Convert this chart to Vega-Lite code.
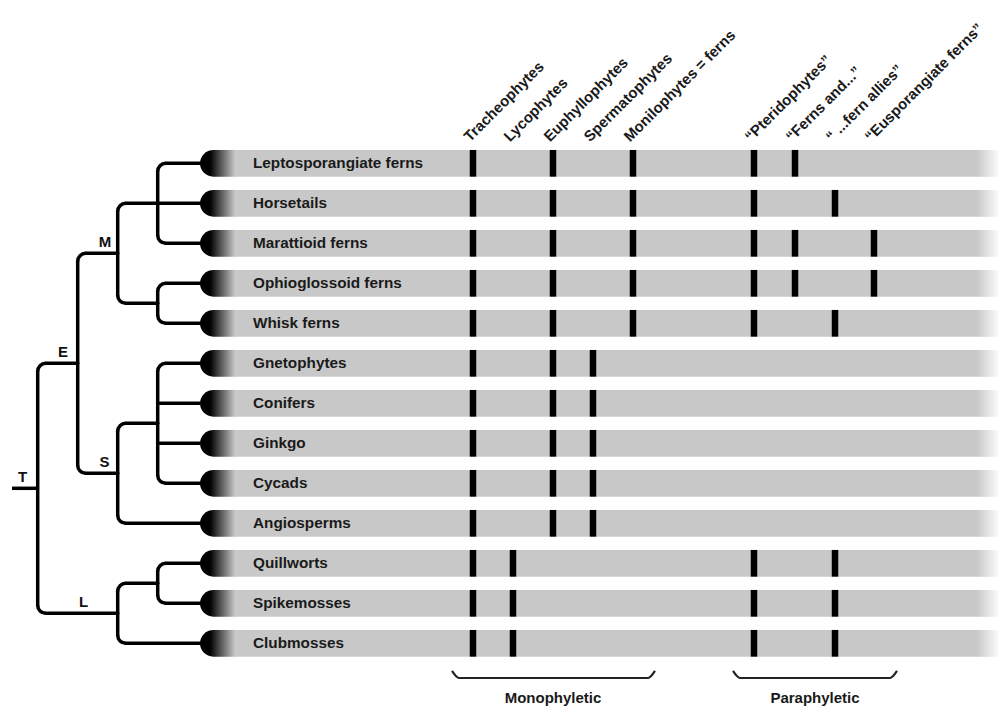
{
  "$schema": "https://vega.github.io/schema/vega-lite/v6.json",
  "width": 999,
  "height": 707,
  "autosize": {"type": "none"},
  "padding": 0,
  "background": "#ffffff",
  "config": {"view": {"stroke": null}},
  "datasets": {
    "taxa": [
      {"taxon": "Leptosporangiate ferns", "row": 0},
      {"taxon": "Horsetails", "row": 1},
      {"taxon": "Marattioid ferns", "row": 2},
      {"taxon": "Ophioglossoid ferns", "row": 3},
      {"taxon": "Whisk ferns", "row": 4},
      {"taxon": "Gnetophytes", "row": 5},
      {"taxon": "Conifers", "row": 6},
      {"taxon": "Ginkgo", "row": 7},
      {"taxon": "Cycads", "row": 8},
      {"taxon": "Angiosperms", "row": 9},
      {"taxon": "Quillworts", "row": 10},
      {"taxon": "Spikemosses", "row": 11},
      {"taxon": "Clubmosses", "row": 12}
    ],
    "clades": [
      {"clade": "Tracheophytes", "pos": 473},
      {"clade": "Lycophytes", "pos": 513},
      {"clade": "Euphyllophytes", "pos": 553},
      {"clade": "Spermatophytes", "pos": 593},
      {"clade": "Monilophytes = ferns", "pos": 633},
      {"clade": "“Pteridophytes”", "pos": 754},
      {"clade": "“Ferns and...”", "pos": 795},
      {"clade": "“ ...fern allies”", "pos": 835},
      {"clade": "“Eusporangiate ferns”", "pos": 874}
    ],
    "membership": [
      {"taxon": "Leptosporangiate ferns", "clade": "Tracheophytes"},
      {"taxon": "Leptosporangiate ferns", "clade": "Euphyllophytes"},
      {"taxon": "Leptosporangiate ferns", "clade": "Monilophytes = ferns"},
      {"taxon": "Leptosporangiate ferns", "clade": "“Pteridophytes”"},
      {"taxon": "Leptosporangiate ferns", "clade": "“Ferns and...”"},
      {"taxon": "Horsetails", "clade": "Tracheophytes"},
      {"taxon": "Horsetails", "clade": "Euphyllophytes"},
      {"taxon": "Horsetails", "clade": "Monilophytes = ferns"},
      {"taxon": "Horsetails", "clade": "“Pteridophytes”"},
      {"taxon": "Horsetails", "clade": "“ ...fern allies”"},
      {"taxon": "Marattioid ferns", "clade": "Tracheophytes"},
      {"taxon": "Marattioid ferns", "clade": "Euphyllophytes"},
      {"taxon": "Marattioid ferns", "clade": "Monilophytes = ferns"},
      {"taxon": "Marattioid ferns", "clade": "“Pteridophytes”"},
      {"taxon": "Marattioid ferns", "clade": "“Ferns and...”"},
      {"taxon": "Marattioid ferns", "clade": "“Eusporangiate ferns”"},
      {"taxon": "Ophioglossoid ferns", "clade": "Tracheophytes"},
      {"taxon": "Ophioglossoid ferns", "clade": "Euphyllophytes"},
      {"taxon": "Ophioglossoid ferns", "clade": "Monilophytes = ferns"},
      {"taxon": "Ophioglossoid ferns", "clade": "“Pteridophytes”"},
      {"taxon": "Ophioglossoid ferns", "clade": "“Ferns and...”"},
      {"taxon": "Ophioglossoid ferns", "clade": "“Eusporangiate ferns”"},
      {"taxon": "Whisk ferns", "clade": "Tracheophytes"},
      {"taxon": "Whisk ferns", "clade": "Euphyllophytes"},
      {"taxon": "Whisk ferns", "clade": "Monilophytes = ferns"},
      {"taxon": "Whisk ferns", "clade": "“Pteridophytes”"},
      {"taxon": "Whisk ferns", "clade": "“ ...fern allies”"},
      {"taxon": "Gnetophytes", "clade": "Tracheophytes"},
      {"taxon": "Gnetophytes", "clade": "Euphyllophytes"},
      {"taxon": "Gnetophytes", "clade": "Spermatophytes"},
      {"taxon": "Conifers", "clade": "Tracheophytes"},
      {"taxon": "Conifers", "clade": "Euphyllophytes"},
      {"taxon": "Conifers", "clade": "Spermatophytes"},
      {"taxon": "Ginkgo", "clade": "Tracheophytes"},
      {"taxon": "Ginkgo", "clade": "Euphyllophytes"},
      {"taxon": "Ginkgo", "clade": "Spermatophytes"},
      {"taxon": "Cycads", "clade": "Tracheophytes"},
      {"taxon": "Cycads", "clade": "Euphyllophytes"},
      {"taxon": "Cycads", "clade": "Spermatophytes"},
      {"taxon": "Angiosperms", "clade": "Tracheophytes"},
      {"taxon": "Angiosperms", "clade": "Euphyllophytes"},
      {"taxon": "Angiosperms", "clade": "Spermatophytes"},
      {"taxon": "Quillworts", "clade": "Tracheophytes"},
      {"taxon": "Quillworts", "clade": "Lycophytes"},
      {"taxon": "Quillworts", "clade": "“Pteridophytes”"},
      {"taxon": "Quillworts", "clade": "“ ...fern allies”"},
      {"taxon": "Spikemosses", "clade": "Tracheophytes"},
      {"taxon": "Spikemosses", "clade": "Lycophytes"},
      {"taxon": "Spikemosses", "clade": "“Pteridophytes”"},
      {"taxon": "Spikemosses", "clade": "“ ...fern allies”"},
      {"taxon": "Clubmosses", "clade": "Tracheophytes"},
      {"taxon": "Clubmosses", "clade": "Lycophytes"},
      {"taxon": "Clubmosses", "clade": "“Pteridophytes”"},
      {"taxon": "Clubmosses", "clade": "“ ...fern allies”"}
    ],
    "verticals": [
      {"node": "Lepto-Horse-Maratt", "x": 157.7, "y": 0, "y2": 2},
      {"node": "Ophio-Whisk", "x": 157.7, "y": 3, "y2": 4},
      {"node": "Gymnosperms", "x": 157.7, "y": 5, "y2": 8},
      {"node": "Quill-Spike", "x": 157.7, "y": 10, "y2": 11},
      {"node": "M", "x": 117.7, "y": 1, "y2": 3.5},
      {"node": "S", "x": 117.7, "y": 6.5, "y2": 9},
      {"node": "L", "x": 117.7, "y": 10.5, "y2": 12},
      {"node": "E", "x": 77.7, "y": 2.25, "y2": 7.75},
      {"node": "T", "x": 37.7, "y": 5, "y2": 11.25}
    ],
    "horizontals": [
      {"x": 157.7, "x2": 200, "y": 0, "start": "corner"},
      {"x": 117.7, "x2": 200, "y": 1, "start": "corner"},
      {"x": 157.7, "x2": 200, "y": 2, "start": "corner"},
      {"x": 157.7, "x2": 200, "y": 3, "start": "corner"},
      {"x": 157.7, "x2": 200, "y": 4, "start": "corner"},
      {"x": 157.7, "x2": 200, "y": 5, "start": "corner"},
      {"x": 157.7, "x2": 200, "y": 6, "start": "junction"},
      {"x": 157.7, "x2": 200, "y": 7, "start": "junction"},
      {"x": 157.7, "x2": 200, "y": 8, "start": "corner"},
      {"x": 117.7, "x2": 200, "y": 9, "start": "corner"},
      {"x": 157.7, "x2": 200, "y": 10, "start": "corner"},
      {"x": 157.7, "x2": 200, "y": 11, "start": "corner"},
      {"x": 117.7, "x2": 200, "y": 12, "start": "corner"},
      {"x": 117.7, "x2": 157.7, "y": 3.5, "start": "corner"},
      {"x": 117.7, "x2": 157.7, "y": 6.5, "start": "corner"},
      {"x": 117.7, "x2": 157.7, "y": 10.5, "start": "corner"},
      {"x": 77.7, "x2": 117.7, "y": 2.25, "start": "corner"},
      {"x": 77.7, "x2": 117.7, "y": 7.75, "start": "corner"},
      {"x": 37.7, "x2": 77.7, "y": 5, "start": "corner"},
      {"x": 37.7, "x2": 117.7, "y": 11.25, "start": "corner"},
      {"x": 12, "x2": 37.7, "y": 8.125, "start": "root"}
    ],
    "nodes": [
      {"node": "T", "x": 22.7, "y": 8.125},
      {"node": "E", "x": 63, "y": 5},
      {"node": "M", "x": 105, "y": 2.25},
      {"node": "S", "x": 104.5, "y": 7.75},
      {"node": "L", "x": 83.5, "y": 11.25}
    ],
    "brackets": [
      {"group": "Monophyletic", "x": 452, "y": 12.69},
      {"group": "Monophyletic", "x": 459, "y": 12.867},
      {"group": "Monophyletic", "x": 648, "y": 12.867},
      {"group": "Monophyletic", "x": 655, "y": 12.69},
      {"group": "Paraphyletic", "x": 733, "y": 12.69},
      {"group": "Paraphyletic", "x": 740, "y": 12.867},
      {"group": "Paraphyletic", "x": 890, "y": 12.867},
      {"group": "Paraphyletic", "x": 897, "y": 12.69}
    ],
    "groupLabels": [
      {"group": "Monophyletic", "x": 553, "y": 13.367},
      {"group": "Paraphyletic", "x": 815, "y": 13.367}
    ]
  },
  "layer": [
    {
      "data": {"name": "taxa"},
      "mark": {
        "type": "rect",
        "height": 26.7,
        "cornerRadiusTopLeft": 13.35,
        "cornerRadiusBottomLeft": 13.35,
        "fill": {
          "gradient": "linear", "x1": 0, "y1": 0, "x2": 1, "y2": 0,
          "stops": [
            {"offset": 0, "color": "#000000"},
            {"offset": 0.0125, "color": "#000000"},
            {"offset": 0.044, "color": "#c8c8c8"},
            {"offset": 0.971, "color": "#c8c8c8"},
            {"offset": 1, "color": "#ffffff"}
          ]
        }
      },
      "encoding": {
        "x": {"datum": 200, "type": "quantitative", "scale": {"type": "linear", "domain": [0, 999], "nice": false, "zero": false}, "axis": null},
        "x2": {"datum": 1000},
        "y": {"field": "row", "type": "quantitative", "scale": {"type": "linear", "domain": [-4.0825, 13.5925], "reverse": true, "nice": false, "zero": false}, "axis": null}
      }
    },
    {
      "data": {"name": "membership"},
      "transform": [
        {"lookup": "taxon", "from": {"data": {"name": "taxa"}, "key": "taxon", "fields": ["row"]}},
        {"lookup": "clade", "from": {"data": {"name": "clades"}, "key": "clade", "fields": ["pos"]}}
      ],
      "mark": {"type": "rect", "width": 6.5, "height": 26.7, "fill": "#000000"},
      "encoding": {
        "x": {"field": "pos", "type": "quantitative"},
        "y": {"field": "row", "type": "quantitative"}
      }
    },
    {
      "data": {"name": "verticals"},
      "mark": {"type": "rule", "stroke": "#000000", "strokeWidth": 3.5, "strokeCap": "round", "yOffset": 8, "y2Offset": -8},
      "encoding": {
        "x": {"field": "x", "type": "quantitative"},
        "y": {"field": "y", "type": "quantitative"},
        "y2": {"field": "y2"}
      }
    },
    {
      "data": {"name": "horizontals"},
      "transform": [{"filter": "datum.start === 'corner'"}],
      "mark": {"type": "rule", "stroke": "#000000", "strokeWidth": 3.5, "strokeCap": "round", "xOffset": 8},
      "encoding": {
        "x": {"field": "x", "type": "quantitative"},
        "x2": {"field": "x2"},
        "y": {"field": "y", "type": "quantitative"}
      }
    },
    {
      "data": {"name": "horizontals"},
      "transform": [{"filter": "datum.start !== 'corner'"}],
      "mark": {"type": "rule", "stroke": "#000000", "strokeWidth": 3.5, "strokeCap": "butt"},
      "encoding": {
        "x": {"field": "x", "type": "quantitative"},
        "x2": {"field": "x2"},
        "y": {"field": "y", "type": "quantitative"}
      }
    },
    {
      "data": {"name": "verticals"},
      "mark": {"type": "arc", "fill": "#000000", "theta": 4.712389, "theta2": 6.283185, "radius": 9.75, "radius2": 6.25, "xOffset": 8, "yOffset": 8},
      "encoding": {
        "x": {"field": "x", "type": "quantitative"},
        "y": {"field": "y", "type": "quantitative"}
      }
    },
    {
      "data": {"name": "verticals"},
      "mark": {"type": "arc", "fill": "#000000", "theta": 3.141593, "theta2": 4.712389, "radius": 9.75, "radius2": 6.25, "xOffset": 8, "yOffset": -8},
      "encoding": {
        "x": {"field": "x", "type": "quantitative"},
        "y": {"field": "y2", "type": "quantitative"}
      }
    },
    {
      "data": {"name": "nodes"},
      "mark": {"type": "text", "font": "Liberation Sans", "fontWeight": "bold", "fontSize": 15, "fill": "#111111", "align": "center", "baseline": "alphabetic", "dy": -6},
      "encoding": {
        "x": {"field": "x", "type": "quantitative"},
        "y": {"field": "y", "type": "quantitative"},
        "text": {"field": "node"}
      }
    },
    {
      "data": {"name": "taxa"},
      "mark": {"type": "text", "font": "Liberation Sans", "fontWeight": "bold", "fontSize": 15.3, "fill": "#1a1a1a", "align": "left", "baseline": "middle"},
      "encoding": {
        "x": {"datum": 253, "type": "quantitative"},
        "y": {"field": "row", "type": "quantitative"},
        "text": {"field": "taxon"}
      }
    },
    {
      "data": {"name": "clades"},
      "mark": {"type": "text", "font": "Liberation Sans", "fontWeight": "bold", "fontSize": 15, "fill": "#1a1a1a", "align": "left", "baseline": "alphabetic", "angle": -45, "xOffset": -3},
      "encoding": {
        "x": {"field": "pos", "type": "quantitative"},
        "y": {"datum": -0.52, "type": "quantitative"},
        "text": {"field": "clade"}
      }
    },
    {
      "data": {"name": "brackets"},
      "mark": {"type": "line", "stroke": "#222222", "strokeWidth": 2.2, "interpolate": "monotone"},
      "encoding": {
        "x": {"field": "x", "type": "quantitative"},
        "y": {"field": "y", "type": "quantitative"},
        "detail": {"field": "group"}
      }
    },
    {
      "data": {"name": "groupLabels"},
      "mark": {"type": "text", "font": "Liberation Sans", "fontWeight": "bold", "fontSize": 15, "fill": "#1a1a1a", "align": "center", "baseline": "middle"},
      "encoding": {
        "x": {"field": "x", "type": "quantitative"},
        "y": {"field": "y", "type": "quantitative"},
        "text": {"field": "group"}
      }
    }
  ]
}
